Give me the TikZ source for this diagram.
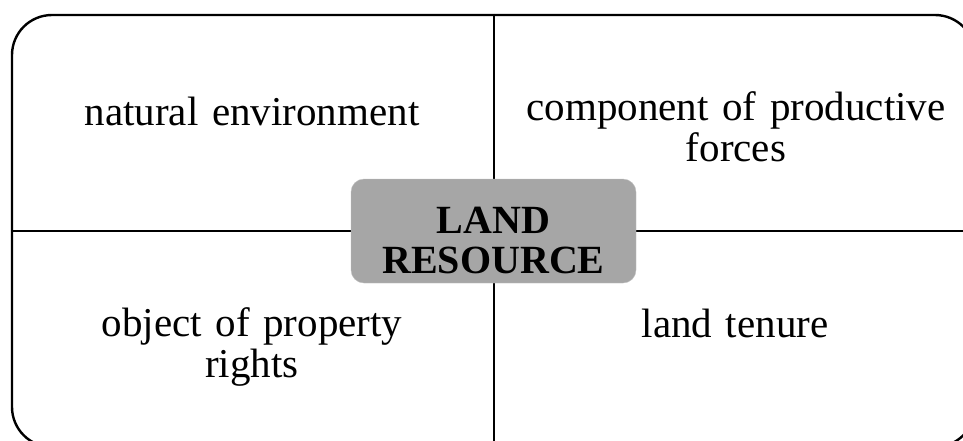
\documentclass[tikz,border=0pt]{standalone}
\usepackage{fontspec}
\setmainfont{Liberation Serif}[WordSpace=0.75]
\usetikzlibrary{positioning}

\begin{document}
\begin{tikzpicture}[x=1pt,y=-1pt,
frm/.style={draw, line width=2.4pt, rounded corners=40pt, minimum width=963pt, minimum height=432pt, inner sep=0pt},
quad/.style={anchor=base, text width=460pt, align=center, inner sep=0pt, font=\fontsize{41}{41}\selectfont},
core/.style={anchor=base, draw=black!25, fill=black!35, rounded corners=13pt, text width=285pt, align=center,
             inner xsep=0pt, inner ysep=10pt, text height=44pt, text depth=40pt,
             font=\fontsize{40}{40}\selectfont\bfseries}]
\useasboundingbox (0,0) rectangle (963,440);
\clip (0,0) rectangle (963,440);
\node[frm] (frame) at (493.5,231) {};
% the cross
\draw[line width=2pt] (frame.north) -- (frame.south);
\draw[line width=2pt] (frame.west) -- (frame.east);
% four sides
\node[quad] (nat) at (252,125) {natural environment};
\node[quad] (prod) at (736,120) {component of productive\\forces};
\node[quad] (prop) at (252,336) {object of property\\rights};
\node[quad] (ten) at (735,337) {land tenure};
% centre
\node[core] (land) at (493.5,233) {LAND\\RESOURCE};
\end{tikzpicture}
\end{document}
